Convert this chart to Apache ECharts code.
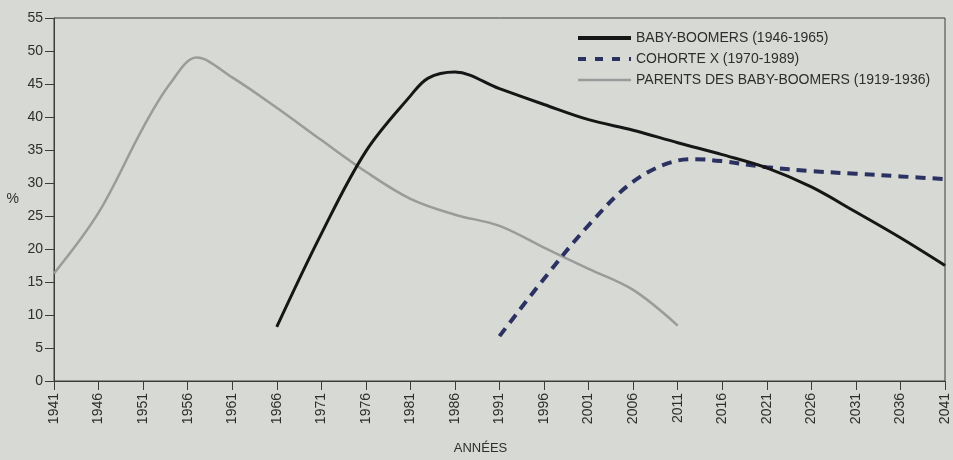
<!DOCTYPE html>
<html>
<head>
<meta charset="utf-8">
<script src="https://cdn.jsdelivr.net/npm/echarts@6/dist/echarts.min.js"></script>
<style>
html,body{margin:0;padding:0;background:#d7d9d4;}
#c{width:953px;height:460px;}
</style>
</head>
<body>
<div id="c"></div>
<script>
// Tick labels / categories
var xTickMin = 1941, xTickMax = 2041, xTickStep = 5;
var yTickMin = 0, yTickMax = 55, yTickStep = 5;
var seriesNames = ['BABY-BOOMERS (1946-1965)', 'COHORTE X (1970-1989)', 'PARENTS DES BABY-BOOMERS (1919-1936)'];

// Baby-boomers (1946-1965)
var boomersYears = [1966, 1971, 1976, 1981, 1983, 1986, 1991, 1996, 2001, 2006, 2011, 2016, 2021, 2026, 2031, 2036, 2041];
var boomersVals  = [8.2, 22.3, 34.8, 43.2, 45.9, 46.8, 44.3, 41.9, 39.6, 38.0, 36.1, 34.3, 32.3, 29.4, 25.6, 21.7, 17.5];

// Cohorte X (1970-1989)
var cohortYears = [1991, 1996, 2001, 2006, 2011, 2013, 2016, 2021, 2026, 2031, 2036, 2041];
var cohortVals  = [6.8, 15.5, 23.6, 30.2, 33.4, 33.6, 33.3, 32.4, 31.8, 31.4, 31.0, 30.6];

// Parents des baby-boomers (1919-1936)
var parentsYears = [1941, 1946, 1951, 1954, 1957, 1961, 1966, 1971, 1976, 1981, 1986, 1991, 1996, 2001, 2006, 2011];
var parentsVals  = [16.3, 25.5, 38.4, 45.0, 49.0, 46.0, 41.4, 36.5, 31.7, 27.6, 25.2, 23.5, 20.2, 17.0, 13.8, 8.4];

function pairs(xs, ys){ return xs.map(function(x, i){ return [x, ys[i]]; }); }

var FONT = '"Liberation Sans", Arial, sans-serif';
var TXT = '#2e2e2e';
var AX = '#3c3c3c';
var C_BOOM = '#161616', C_COH = '#2b3262', C_PAR = '#9a9b9a';

var chart = echarts.init(document.getElementById('c'), null, {renderer:'canvas'});
chart.setOption({
  backgroundColor: '#d7d9d4',
  animation: false,
  textStyle: {fontFamily: FONT},
  grid: {left: 54, right: 8, top: 18, bottom: 77, show: true, borderColor: AX, borderWidth: 1, backgroundColor: 'transparent'},
  legend: {
    orient: 'vertical', left: 571, top: 26, itemWidth: 53, itemHeight: 14, itemGap: 7,
    itemStyle: {opacity: 0},
    textStyle: {fontSize: 14, color: TXT, fontFamily: FONT},
    data: [
      {name: seriesNames[0], lineStyle: {width: 4, color: C_BOOM}},
      {name: seriesNames[1], lineStyle: {width: 4, color: C_COH, type: [8, 9]}},
      {name: seriesNames[2], lineStyle: {width: 2.5, color: C_PAR}}
    ]
  },
  xAxis: {
    type: 'value', min: xTickMin, max: xTickMax, interval: xTickStep,
    name: 'ANNÉES', nameLocation: 'middle', nameGap: 61,
    nameTextStyle: {fontSize: 13, color: TXT, fontFamily: FONT, padding: [0, 38, 0, 0]},
    axisLine: {show: true, lineStyle: {color: AX, width: 1}},
    axisTick: {show: true, length: 9, inside: false, lineStyle: {color: AX}},
    axisLabel: {rotate: 90, margin: 12, fontSize: 14, color: TXT, fontFamily: FONT, formatter: function(v){ return String(v); }},
    splitLine: {show: false}
  },
  yAxis: {
    type: 'value', min: yTickMin, max: yTickMax, interval: yTickStep,
    name: '%', nameLocation: 'middle', nameRotate: 0, nameGap: 35,
    nameTextStyle: {fontSize: 14, color: TXT, fontFamily: FONT},
    axisLine: {show: true, lineStyle: {color: AX, width: 1}},
    axisTick: {show: true, length: 9, inside: false, lineStyle: {color: AX}},
    axisLabel: {margin: 11, fontSize: 14, color: TXT, fontFamily: FONT},
    splitLine: {show: false}
  },
  series: [
    {
      name: seriesNames[0], type: 'line', symbol: 'none', smooth: 0.35,
      lineStyle: {color: C_BOOM, width: 3},
      itemStyle: {color: C_BOOM},
      data: pairs(boomersYears, boomersVals), z: 4
    },
    {
      name: seriesNames[1], type: 'line', symbol: 'none', smooth: 0.35,
      lineStyle: {color: C_COH, width: 4, type: [10, 7]},
      itemStyle: {color: C_COH},
      data: pairs(cohortYears, cohortVals), z: 3
    },
    {
      name: seriesNames[2], type: 'line', symbol: 'none', smooth: 0.35,
      lineStyle: {color: C_PAR, width: 2.5},
      itemStyle: {color: C_PAR},
      data: pairs(parentsYears, parentsVals), z: 2
    }
  ]
});
</script>
</body>
</html>
